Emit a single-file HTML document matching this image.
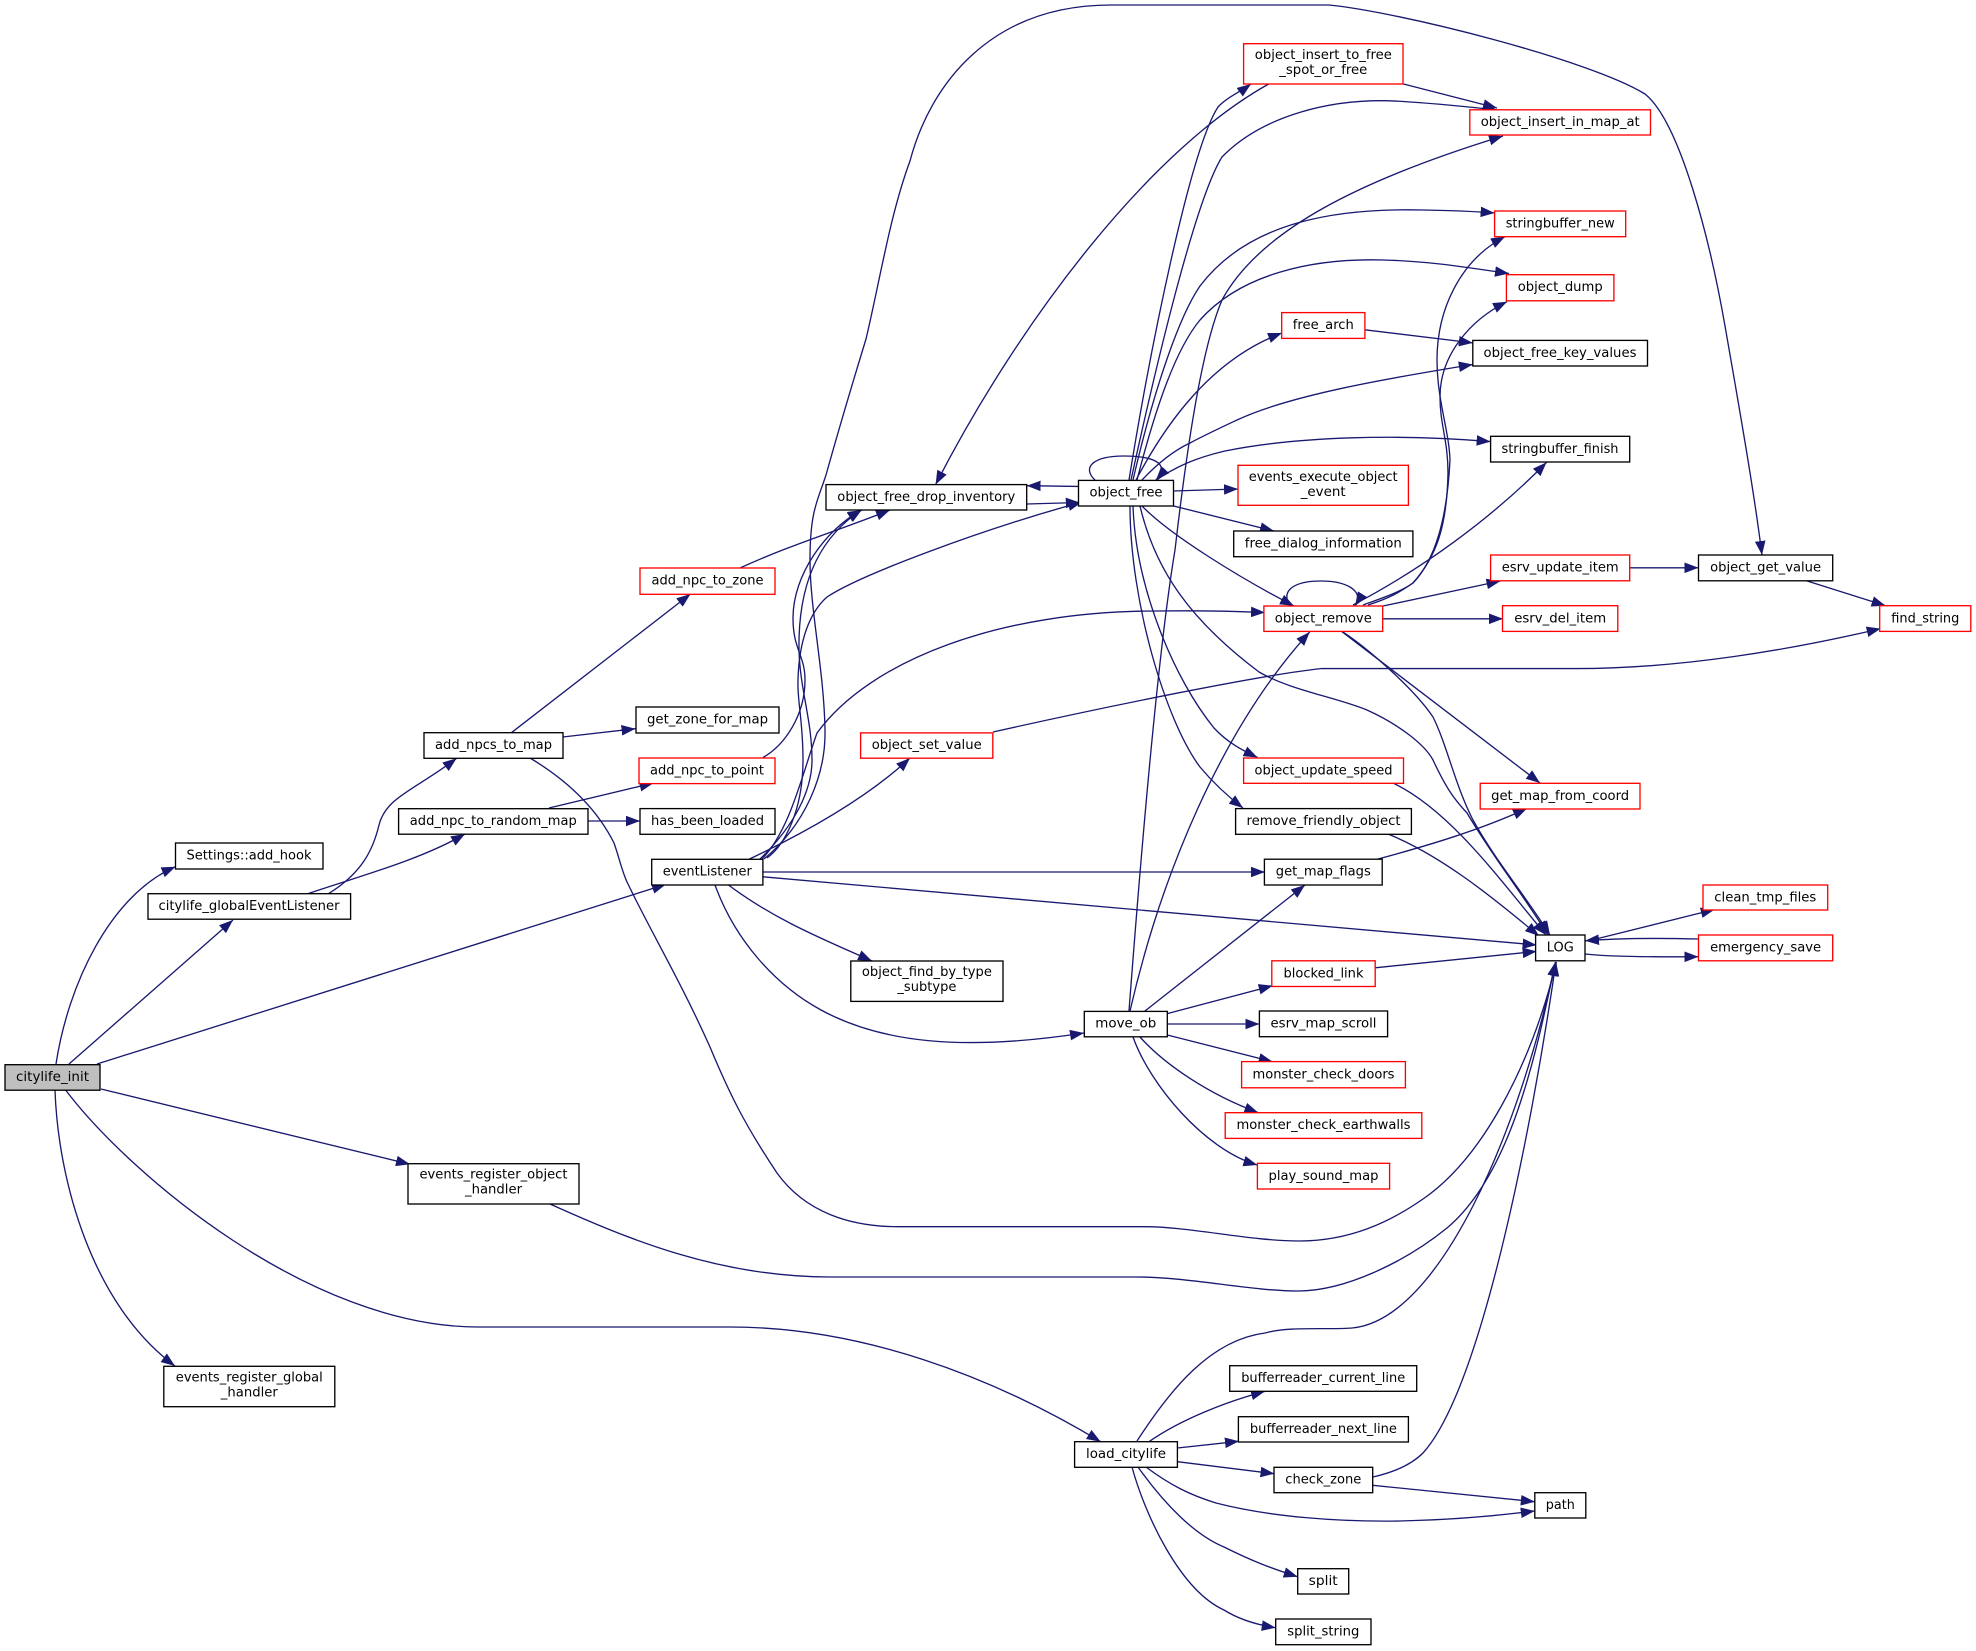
<!DOCTYPE html>
<html><head><meta charset="utf-8"><title>citylife_init call graph</title>
<style>
html,body{margin:0;padding:0;background:#fff}
svg{display:block}
.e path{fill:none;stroke:#191970;stroke-width:1.33;marker-end:url(#a)}
.k rect{fill:#fff;stroke:#000;stroke-width:1.33}
.r rect{fill:#fff;stroke:#f00;stroke-width:1.33}
.g rect{fill:#bfbfbf;stroke:#000;stroke-width:1.33}
text{font-family:"DejaVu Sans","Liberation Sans",sans-serif;font-size:13.5px;fill:#000;text-anchor:middle;transform:translateY(-0.8px)}
</style></head><body>
<svg xmlns="http://www.w3.org/2000/svg" width="1976" height="1651" viewBox="0 0 1976 1651">
<defs><marker id="a" viewBox="0 0 14 10.6" refX="14" refY="5.3" markerWidth="14" markerHeight="10.6" markerUnits="userSpaceOnUse" orient="auto"><path d="M0,0L14,5.3L0,10.6z" fill="#191970"/></marker></defs>
<g class="e">
<path d="M56,1064C68,985 110,895 175.5,866.7"/>
<path d="M69,1064L233,920"/>
<path d="M97,1064L666,884.3"/>
<path d="M101,1089L410,1164.3"/>
<path d="M55,1090C58,1180 92,1305 175,1366"/>
<path d="M65.6,1090C130,1175 310,1327 478,1327L730,1327C860,1327 990,1375 1100.7,1441.7"/>
<path d="M328,894C362,873 373,850 379,825C386,797 415,790 456.6,758.3"/>
<path d="M307,894C360,876 420,860 465,834"/>
<path d="M511.4,732.7L690.5,594"/>
<path d="M562.7,737L635.5,728.7"/>
<path d="M530,758C575,785 600,815 614,843C620,860 622,872 628,884C650,930 680,980 710,1047C730,1095 745,1125 777,1173C805,1212 850,1227 900,1226.7L1145,1226.7C1190,1226.7 1250,1241 1299,1241C1350,1241 1390,1222 1423,1199C1480,1160 1530,1070 1556.4,962"/>
<path d="M550,1204C630,1240 720,1277 830,1277L1137,1277C1190,1277 1250,1291 1298,1291C1345,1291 1405,1262 1447,1228C1510,1175 1535,1060 1555.5,962"/>
<path d="M549,808L653.6,783"/>
<path d="M588,821L640,821"/>
<path d="M740,568C790,545 840,530 890,510"/>
<path d="M763,757.5C785,745 805,715 805,680C805,655 793,650 793,618C793,575 825,530 861.7,510"/>
<path d="M760,859C795,825 812,790 812,760C812,720 800,690 799,650C798,590 815,540 861.7,510"/>
<path d="M767,858C785,845 803,810 803,760C803,720 797,700 798,680C799,640 810,612 827,597C860,575 980,530 1082,502"/>
<path d="M764,859C805,825 826,775 825,730C824,670 810,610 810,560C810,510 818,500 826,475C840,425 855,375 866,339C880,280 890,215 910,161C930,85 990,5 1111,5L1329,5C1400,12 1590,60 1645,94C1680,122 1710,240 1725,326C1745,440 1755,500 1762,555"/>
<path d="M762,859C790,830 802,775 817,733C870,660 1000,611 1156,611C1190,610.5 1230,611 1265,612.5"/>
<path d="M749.5,859C800,835 865,800 910,758"/>
<path d="M763,872L1265,872"/>
<path d="M763,876.8L1536.6,945"/>
<path d="M728.5,885C775,920 825,940 872,961"/>
<path d="M715,885C735,940 775,985 821,1010C880,1042 960,1052 1084,1033"/>
<path d="M993,732C1100,708 1260,675 1321,668.6L1576,668.6C1680,668.6 1790,650 1880.7,628.6"/>
<path d="M1078.5,486.4L1026.7,485.7"/>
<path d="M1026.7,504L1079.8,502.5"/>
<path d="M1268.7,84C1150,150 1020,320 935.6,484.6"/>
<path d="M1403.5,84L1497,108"/>
<path d="M1129,480C1150,350 1190,150 1218,107C1226,98 1240,92 1251,84"/>
<path d="M1131,480C1155,370 1195,200 1222,157C1260,118 1330,95 1410,102C1440,104 1470,107 1497,110"/>
<path d="M1129,1011C1145,800 1160,640 1175,550C1190,420 1205,340 1222,300C1260,230 1360,180 1503,136"/>
<path d="M1133,480C1155,385 1180,315 1200,286C1250,220 1340,208 1423,210C1450,210.5 1470,211 1494.6,213"/>
<path d="M1137,480C1155,410 1175,350 1200,320C1240,275 1310,258 1383,260C1430,261 1470,268 1509,273.5"/>
<path d="M1136,480C1165,425 1210,360 1282,333"/>
<path d="M1142,480C1158,463 1175,450 1190,443C1205,435 1220,428 1237,420C1290,395 1390,378 1472.8,364.5"/>
<path d="M1155,481C1175,467 1195,458 1225,451C1300,436 1400,434 1490.6,441.6"/>
<path d="M1095,480C1082,468 1092,456 1124,456C1150,456 1172,462 1156,480"/>
<path d="M1173.6,491L1238,489"/>
<path d="M1173.6,506L1274,531"/>
<path d="M1142,506C1170,535 1240,578 1294,606"/>
<path d="M1130,506C1130,600 1165,720 1200,767C1215,785 1230,798 1243,808"/>
<path d="M1133,506C1136,590 1175,680 1214,728C1228,743 1242,750 1257.5,757.5"/>
<path d="M1140,506C1155,570 1190,620 1259,672C1290,690 1335,697 1367,710C1400,725 1425,745 1433,760C1447,790 1455,800 1467,813C1495,860 1520,890 1548,935"/>
<path d="M1290,606C1280,590 1295,581 1321,581C1345,581 1365,590 1355,606"/>
<path d="M1368,605C1390,598 1400,592 1413,583C1435,560 1447,520 1450,460C1449,430 1437,400 1437,360C1437,310 1460,260 1505,236.7"/>
<path d="M1363,605C1385,597 1400,592 1413,583C1437,556 1447,525 1448,473C1448,440 1440,425 1440,397C1440,355 1470,320 1507,301.7"/>
<path d="M1353,605C1420,570 1490,520 1546.5,462.4"/>
<path d="M1383,606L1500.5,581"/>
<path d="M1382.7,618.8L1503,618.8"/>
<path d="M1629.7,567.8L1698.5,567.8"/>
<path d="M1806.4,580.8L1885.6,605.7"/>
<path d="M1342,631.7L1540,783"/>
<path d="M1343,632C1370,650 1415,690 1433,717C1447,745 1455,785 1473,820C1495,860 1525,895 1550,935"/>
<path d="M1393,783C1450,810 1500,880 1546,935"/>
<path d="M1388,834C1440,855 1490,895 1539,936"/>
<path d="M1378,859C1430,845 1480,830 1527,808.5"/>
<path d="M1375,967.8L1536.6,951.4"/>
<path d="M1596,939L1714.8,909.4"/>
<path d="M1698.5,939C1660,938 1620,938 1585,940.8"/>
<path d="M1585,954C1610,957 1660,957 1698.5,956.7"/>
<path d="M1364.9,329.8L1472.8,342.9"/>
<path d="M1130,1011C1160,880 1220,730 1309.7,632"/>
<path d="M1144.5,1011.4L1305,885"/>
<path d="M1167.3,1013.6L1272.7,985.7"/>
<path d="M1167.3,1024L1259.4,1024"/>
<path d="M1167.3,1035L1272.7,1061.8"/>
<path d="M1140,1037C1165,1065 1210,1095 1258.4,1112.7"/>
<path d="M1133,1037C1150,1085 1205,1150 1257.4,1165"/>
<path d="M1137,1441C1170,1390 1210,1340 1265,1333C1290,1326 1330,1330 1352,1328C1440,1320 1520,1130 1555.5,962"/>
<path d="M1149,1441.7C1180,1420 1225,1402 1265,1391.3"/>
<path d="M1177.4,1448L1239,1441.3"/>
<path d="M1177.4,1461.7L1274.5,1473.7"/>
<path d="M1146,1467C1170,1485 1190,1495 1216,1503C1270,1517 1340,1522 1400,1521C1450,1520 1495,1516 1534.8,1511"/>
<path d="M1138,1467C1165,1505 1195,1535 1224,1547C1250,1560 1270,1568 1297.7,1576.7"/>
<path d="M1132,1467C1145,1515 1180,1590 1224,1610C1240,1620 1258,1625 1275.7,1627.7"/>
<path d="M1373,1477C1395,1472 1412,1464 1423,1453C1480,1390 1530,1140 1556,962"/>
<path d="M1372.7,1485.3L1534.8,1501.7"/>
</g>
<g class="g"><rect x="5" y="1064.7" width="95" height="25.5"/><text x="52.5" y="1082" textLength="73" lengthAdjust="spacingAndGlyphs">citylife_init</text></g>
<g class="k">
<rect x="175.5" y="843" width="147.5" height="26"/><text x="249" y="860.5" textLength="125" lengthAdjust="spacingAndGlyphs">Settings::add_hook</text>
<rect x="148" y="893.7" width="202.6" height="25.5"/><text x="249" y="911" textLength="181" lengthAdjust="spacingAndGlyphs">citylife_globalEventListener</text>
<rect x="424" y="732.7" width="139" height="25.6"/><text x="493.5" y="750" textLength="117" lengthAdjust="spacingAndGlyphs">add_npcs_to_map</text>
<rect x="398.6" y="808.7" width="189.4" height="25.5"/><text x="493.3" y="826" textLength="167" lengthAdjust="spacingAndGlyphs">add_npc_to_random_map</text>
<rect x="636" y="707" width="143" height="26"/><text x="707.5" y="724.5" textLength="121" lengthAdjust="spacingAndGlyphs">get_zone_for_map</text>
<rect x="640" y="808.6" width="135" height="25.7"/><text x="707.5" y="826" textLength="113" lengthAdjust="spacingAndGlyphs">has_been_loaded</text>
<rect x="651.7" y="859.3" width="111.2" height="25.7"/><text x="707.3" y="876.5" textLength="89" lengthAdjust="spacingAndGlyphs">eventListener</text>
<rect x="826" y="484.6" width="200.7" height="25.4"/><text x="926.3" y="502" textLength="178" lengthAdjust="spacingAndGlyphs">object_free_drop_inventory</text>
<rect x="1078.5" y="480.4" width="95" height="25.6"/><text x="1126" y="497.5" textLength="73" lengthAdjust="spacingAndGlyphs">object_free</text>
<rect x="1233.7" y="531" width="179.2" height="25.7"/><text x="1323.3" y="548.5" textLength="157" lengthAdjust="spacingAndGlyphs">free_dialog_information</text>
<rect x="1472.8" y="340.4" width="174.7" height="25.6"/><text x="1560" y="357.8" textLength="153" lengthAdjust="spacingAndGlyphs">object_free_key_values</text>
<rect x="1490.6" y="436.3" width="139.1" height="25.7"/><text x="1560" y="453.8" textLength="117" lengthAdjust="spacingAndGlyphs">stringbuffer_finish</text>
<rect x="1698.5" y="555" width="134.2" height="25.8"/><text x="1765.6" y="572.5" textLength="111" lengthAdjust="spacingAndGlyphs">object_get_value</text>
<rect x="850.8" y="961" width="152.2" height="40.4"/><text x="926.9" y="977" textLength="130" lengthAdjust="spacingAndGlyphs">object_find_by_type</text><text x="926.9" y="992" textLength="59" lengthAdjust="spacingAndGlyphs">_subtype</text>
<rect x="1084.3" y="1011.4" width="83" height="25.4"/><text x="1125.8" y="1028.5" textLength="61" lengthAdjust="spacingAndGlyphs">move_ob</text>
<rect x="1235.6" y="808.6" width="175.8" height="25.7"/><text x="1323.5" y="826" textLength="154" lengthAdjust="spacingAndGlyphs">remove_friendly_object</text>
<rect x="1264.4" y="859.2" width="117.8" height="25.8"/><text x="1323.3" y="876.5" textLength="95" lengthAdjust="spacingAndGlyphs">get_map_flags</text>
<rect x="1259.4" y="1011" width="128.2" height="25.7"/><text x="1323.5" y="1028.5" textLength="106" lengthAdjust="spacingAndGlyphs">esrv_map_scroll</text>
<rect x="1535.6" y="935" width="49.4" height="25.8"/><text x="1560.3" y="952.5" textLength="27" lengthAdjust="spacingAndGlyphs">LOG</text>
<rect x="408" y="1163.7" width="171" height="40.3"/><text x="493.5" y="1179.5" textLength="148" lengthAdjust="spacingAndGlyphs">events_register_object</text><text x="493.5" y="1194.5" textLength="57" lengthAdjust="spacingAndGlyphs">_handler</text>
<rect x="163.8" y="1366.3" width="171" height="40.4"/><text x="249.3" y="1382.5" textLength="147" lengthAdjust="spacingAndGlyphs">events_register_global</text><text x="249.3" y="1397.5" textLength="57" lengthAdjust="spacingAndGlyphs">_handler</text>
<rect x="1074.6" y="1441.7" width="102.8" height="25.6"/><text x="1126" y="1459" textLength="80" lengthAdjust="spacingAndGlyphs">load_citylife</text>
<rect x="1229.7" y="1365.7" width="187" height="25.6"/><text x="1323.2" y="1383" textLength="164" lengthAdjust="spacingAndGlyphs">bufferreader_current_line</text>
<rect x="1238.4" y="1416.7" width="170" height="25.3"/><text x="1323.4" y="1434" textLength="147" lengthAdjust="spacingAndGlyphs">bufferreader_next_line</text>
<rect x="1274" y="1467.3" width="98.7" height="25.4"/><text x="1323.3" y="1484.5" textLength="76" lengthAdjust="spacingAndGlyphs">check_zone</text>
<rect x="1534.8" y="1492.7" width="51" height="25.3"/><text x="1560.3" y="1510" textLength="29" lengthAdjust="spacingAndGlyphs">path</text>
<rect x="1297.7" y="1568.7" width="51" height="25.3"/><text x="1323.2" y="1586" textLength="29" lengthAdjust="spacingAndGlyphs">split</text>
<rect x="1275.7" y="1619" width="95.3" height="25.7"/><text x="1323.3" y="1636.5" textLength="72" lengthAdjust="spacingAndGlyphs">split_string</text>
</g>
<g class="r">
<rect x="640" y="568" width="135" height="26.3"/><text x="707.5" y="585.5" textLength="112" lengthAdjust="spacingAndGlyphs">add_npc_to_zone</text>
<rect x="639" y="758" width="136" height="25.6"/><text x="707" y="775.3" textLength="114" lengthAdjust="spacingAndGlyphs">add_npc_to_point</text>
<rect x="860.6" y="732.9" width="132.2" height="25.3"/><text x="926.7" y="750" textLength="110" lengthAdjust="spacingAndGlyphs">object_set_value</text>
<rect x="1243.6" y="43.7" width="159.4" height="40.3"/><text x="1323.3" y="60" textLength="137" lengthAdjust="spacingAndGlyphs">object_insert_to_free</text><text x="1323.3" y="75" textLength="88" lengthAdjust="spacingAndGlyphs">_spot_or_free</text>
<rect x="1281.7" y="312.6" width="83.2" height="25.8"/><text x="1323.3" y="330" textLength="61" lengthAdjust="spacingAndGlyphs">free_arch</text>
<rect x="1238" y="465.3" width="170.4" height="40"/><text x="1323.2" y="481.6" textLength="149" lengthAdjust="spacingAndGlyphs">events_execute_object</text><text x="1323.2" y="496.6" textLength="45" lengthAdjust="spacingAndGlyphs">_event</text>
<rect x="1263.9" y="606" width="118.8" height="25.4"/><text x="1323.3" y="623.3" textLength="97" lengthAdjust="spacingAndGlyphs">object_remove</text>
<rect x="1469.8" y="109.8" width="180.7" height="25.2"/><text x="1560.2" y="127" textLength="159" lengthAdjust="spacingAndGlyphs">object_insert_in_map_at</text>
<rect x="1494.6" y="211" width="131.1" height="25.7"/><text x="1560.2" y="228.3" textLength="109" lengthAdjust="spacingAndGlyphs">stringbuffer_new</text>
<rect x="1506.4" y="274.7" width="107.5" height="26.1"/><text x="1560.2" y="292" textLength="85" lengthAdjust="spacingAndGlyphs">object_dump</text>
<rect x="1490.6" y="555" width="139.1" height="25.8"/><text x="1560.2" y="572.5" textLength="117" lengthAdjust="spacingAndGlyphs">esrv_update_item</text>
<rect x="1502.5" y="605.7" width="115.3" height="25.7"/><text x="1560.2" y="623.2" textLength="92" lengthAdjust="spacingAndGlyphs">esrv_del_item</text>
<rect x="1879.7" y="605.7" width="91.1" height="25.7"/><text x="1925.3" y="623.2" textLength="68" lengthAdjust="spacingAndGlyphs">find_string</text>
<rect x="1243.6" y="758" width="159.9" height="25.3"/><text x="1323.5" y="775.3" textLength="138" lengthAdjust="spacingAndGlyphs">object_update_speed</text>
<rect x="1480.2" y="783.3" width="159.8" height="25.7"/><text x="1560.1" y="800.6" textLength="138" lengthAdjust="spacingAndGlyphs">get_map_from_coord</text>
<rect x="1703" y="885" width="124.7" height="25"/><text x="1765.3" y="902.2" textLength="102" lengthAdjust="spacingAndGlyphs">clean_tmp_files</text>
<rect x="1698.5" y="935" width="134.2" height="25.8"/><text x="1765.6" y="952.5" textLength="111" lengthAdjust="spacingAndGlyphs">emergency_save</text>
<rect x="1271.8" y="960.8" width="103.4" height="25.7"/><text x="1323.5" y="978.2" textLength="80" lengthAdjust="spacingAndGlyphs">blocked_link</text>
<rect x="1241.6" y="1061.6" width="163.8" height="26.2"/><text x="1323.5" y="1079.2" textLength="142" lengthAdjust="spacingAndGlyphs">monster_check_doors</text>
<rect x="1225.2" y="1112.7" width="196.6" height="25.7"/><text x="1323.5" y="1130" textLength="174" lengthAdjust="spacingAndGlyphs">monster_check_earthwalls</text>
<rect x="1257.4" y="1163.3" width="132.2" height="25.7"/><text x="1323.5" y="1180.8" textLength="110" lengthAdjust="spacingAndGlyphs">play_sound_map</text>
</g>
</svg>
</body></html>
